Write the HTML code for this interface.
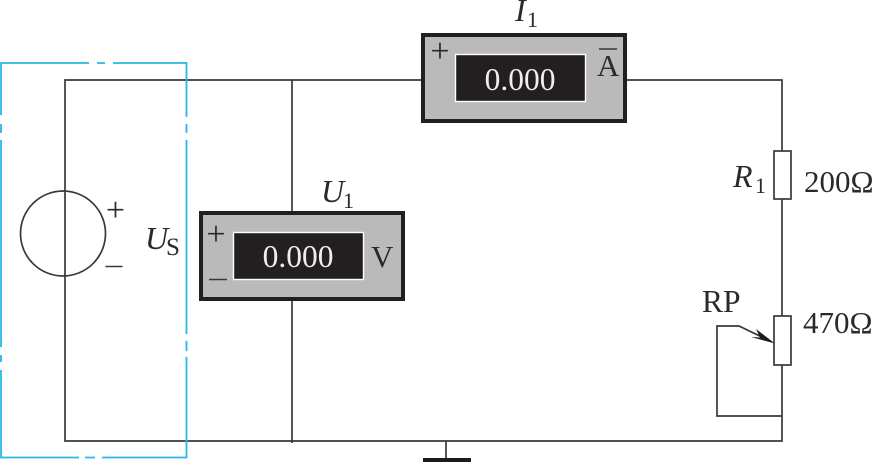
<!DOCTYPE html>
<html>
<head>
<meta charset="utf-8">
<style>
html,body{margin:0;padding:0;background:#fff;width:874px;height:462px;overflow:hidden}
svg{display:block}
text{font-family:"Liberation Serif",serif;fill:#2b2a29}
</style>
</head>
<body>
<svg width="874" height="462" viewBox="0 0 874 462" xmlns="http://www.w3.org/2000/svg">
  <!-- wires -->
  <g fill="none" stroke="#3a3939" stroke-width="1.7">
    <path d="M421 80H65V441H782V365M292 80V212M292 300V443M627 80H782V151M782 199V316M446 441V458"/>
    <circle cx="63" cy="233.5" r="42.5"/>
    <rect x="774" y="151" width="17" height="48"/>
    <rect x="774" y="316" width="17" height="49"/>
    <path d="M782 416H717V326H739L770 341"/>
  </g>
  <path d="M775 343.500L756 329L760 337.500L751 337Z" fill="#1d1b1b"/>
  <rect x="423" y="458" width="48" height="4" fill="#1d1b1b"/>

  <!-- cyan dash-dot box -->
  <g fill="none" stroke="#29b6e6" stroke-width="1.8">
    <path d="M1 115V63H89M97 63H105M113 63H186.500V117M186.500 124V133M186.500 140V334M186.500 341V351M186.500 357V457.500H102M95 457.500H85M79 457.500H1V370M1 362V355M1 347V140M1 133V124"/>
  </g>

  <!-- voltmeter -->
  <rect x="201" y="213" width="202" height="86" fill="#bababa" stroke="#231f20" stroke-width="4"/>
  <rect x="233.500" y="232.500" width="130" height="47" fill="#231f20" stroke="#fff" stroke-width="1.400"/>
  <text x="298" y="267" font-size="31.500" text-anchor="middle" style="fill:#eeeeee">0.000</text>
  <text x="371" y="267" font-size="31">V</text>

  <!-- ammeter -->
  <rect x="423" y="35" width="202" height="86" fill="#bababa" stroke="#231f20" stroke-width="4"/>
  <rect x="455.500" y="54.500" width="130" height="47" fill="#231f20" stroke="#fff" stroke-width="1.400"/>
  <text x="520" y="90" font-size="31.500" text-anchor="middle" style="fill:#eeeeee">0.000</text>
  <text x="597" y="76" font-size="31">A</text>
  <path d="M599 49H617" stroke="#3a3939" stroke-width="1.500"/>

  <!-- signs -->
  <g font-size="34" text-anchor="middle">
    <text x="115.500" y="221">+</text>
    <text x="216" y="245">+</text>
    <text x="440" y="62">+</text>
  </g>
  <path d="M105.500 266.500H122.500M209 279.500H227" stroke="#3a3939" stroke-width="1.500"/>

  <!-- labels -->
  <text x="145" y="249" font-size="32" font-style="italic">U</text>
  <text x="166" y="255" font-size="25">S</text>
  <text x="321" y="202" font-size="32" font-style="italic">U</text>
  <text x="343" y="208" font-size="22">1</text>
  <text x="515" y="21" font-size="32" font-style="italic">I</text>
  <text x="527" y="27" font-size="22">1</text>
  <text x="733" y="187" font-size="32" font-style="italic">R</text>
  <text x="755" y="193" font-size="22">1</text>
  <text x="804" y="192" font-size="31">200Ω</text>
  <text x="702" y="312" font-size="31.500">RP</text>
  <text x="803" y="333" font-size="31">470Ω</text>
</svg>
</body>
</html>
